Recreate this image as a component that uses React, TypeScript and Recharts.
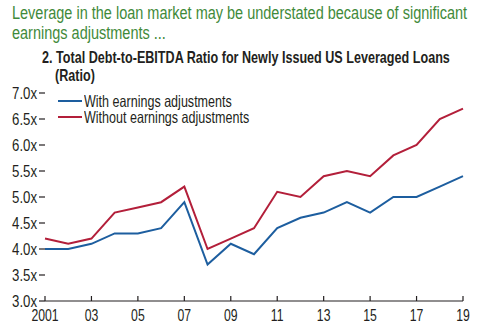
import { LineChart, Line, XAxis, YAxis } from "recharts";

const years = ["2001", "02", "03", "04", "05", "06", "07", "08", "09", "10", "11", "12", "13", "14", "15", "16", "17", "18", "19"];
const withAdj = [4.0, 4.0, 4.1, 4.3, 4.3, 4.4, 4.9, 3.7, 4.1, 3.9, 4.4, 4.6, 4.7, 4.9, 4.7, 5.0, 5.0, 5.2, 5.4];
const withoutAdj = [4.2, 4.1, 4.2, 4.7, 4.8, 4.9, 5.2, 4.0, 4.2, 4.4, 5.1, 5.0, 5.4, 5.5, 5.4, 5.8, 6.0, 6.5, 6.7];
const yTicks = [3, 3.5, 4, 4.5, 5, 5.5, 6, 6.5, 7];
const xTicks = ["2001", "03", "05", "07", "09", "11", "13", "15", "17", "19"];

const BLUE = "#1d5e9f";
const RED = "#b31f3a";
const GREEN = "#3f8a3a";
const INK = "#231f20";
const FONT = '"Liberation Sans", Arial, sans-serif';

const data = years.map((y, i) => ({ year: y, with: withAdj[i], without: withoutAdj[i] }));

const series = [
  { key: "with", label: "With earnings adjustments", color: BLUE },
  { key: "without", label: "Without earnings adjustments", color: RED },
];

function XTick({ x, y, payload }: any) {
  return (
    <g>
      <line x1={x} x2={x} y1={y} y2={y - 5} stroke={INK} strokeWidth={1.2} />
      <text
        transform={`translate(${x},${y + 20}) scale(0.72,1)`}
        textAnchor="middle"
        fontSize={17}
        fill={INK}
        fontFamily={FONT}
      >
        {payload.value}
      </text>
    </g>
  );
}

function YTick({ x, y, payload }: any) {
  return (
    <text
      transform={`translate(${x},${y + 6}) scale(0.8,1)`}
      textAnchor="end"
      fontSize={16.5}
      fill={INK}
      fontFamily={FONT}
    >
      {payload.value.toFixed(1) + "x"}
    </text>
  );
}

// Arial squeezed horizontally to stand in for a narrow face
const squeezed = (sx: number, extra: any) => ({
  position: "absolute" as const,
  fontFamily: FONT,
  transform: `scaleX(${sx})`,
  transformOrigin: "left top",
  whiteSpace: "nowrap" as const,
  ...extra,
});

export default function App() {
  return (
    <div style={{ position: "absolute", top: 0, left: 0, width: 480, height: 333, background: "#fff" }}>
      <LineChart width={480} height={333} data={data} margin={{ top: 93, right: 0, bottom: 2, left: 0 }} style={{ position: "absolute", top: 0, left: 0 }}>
        <XAxis
          dataKey="year"
          ticks={xTicks}
          interval={0}
          height={30}
          tickSize={0}
          tickMargin={0}
          tickLine={false}
          tick={<XTick />}
          axisLine={{ stroke: INK, strokeWidth: 1.2 }}
        />
        <YAxis
          yAxisId="left"
          domain={[3, 7]}
          ticks={yTicks}
          width={45}
          axisLine={false}
          tickSize={6}
          tickMargin={2}
          tickLine={{ stroke: INK, strokeWidth: 1.2 }}
          tick={<YTick />}
        />
        <YAxis
          yAxisId="right"
          orientation="right"
          domain={[3, 7]}
          ticks={yTicks}
          width={17}
          axisLine={false}
          tick={false}
          tickSize={7}
          tickLine={{ stroke: INK, strokeWidth: 1.2 }}
        />
        {series.map((s) => (
          <Line
            key={s.key}
            yAxisId="left"
            dataKey={s.key}
            name={s.label}
            stroke={s.color}
            strokeWidth={2}
            dot={false}
            type="linear"
            isAnimationActive={false}
          />
        ))}
      </LineChart>
      <div style={squeezed(0.828, { left: 12, top: 3, fontSize: 17.5, color: GREEN, lineHeight: "20px" })}>
        Leverage in the loan market may be understated because of significant
        <br />
        earnings adjustments ...
      </div>
      <div style={squeezed(0.763, { left: 42, top: 48, fontSize: 16.5, fontWeight: 700, color: INK, lineHeight: "18px" })}>
        2. Total Debt-to-EBITDA Ratio for Newly Issued US Leveraged Loans
        <div style={{ paddingLeft: 17 }}>(Ratio)</div>
      </div>
      <div style={{ position: "absolute", left: 58, top: 93 }}>
        {series.map((s) => (
          <div key={s.key} style={{ position: "relative", height: 16 }}>
            <span style={{ position: "absolute", left: 0, top: 7, width: 24, height: 2, background: s.color }} />
            <span style={squeezed(0.76, { left: 26, top: 0, fontSize: 16.5, color: INK, lineHeight: "16px" })}>{s.label}</span>
          </div>
        ))}
      </div>
    </div>
  );
}
